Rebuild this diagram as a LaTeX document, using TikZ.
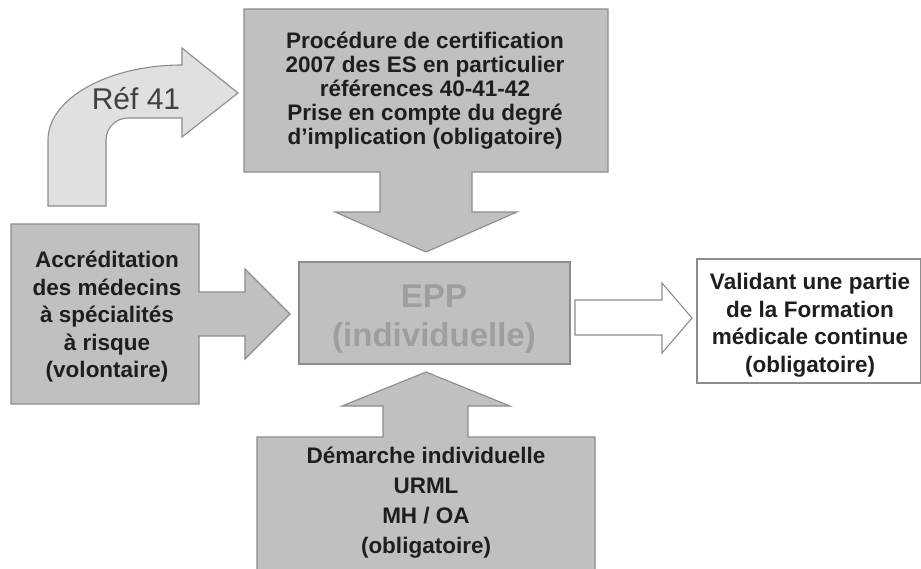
\documentclass[tikz,border=0pt]{standalone}
\usepackage{fontspec}
\setmainfont{Liberation Sans}
\definecolor{boxgrey}{HTML}{C0C0C0}
\definecolor{edgegrey}{HTML}{8C8C8C}
\definecolor{lightgrey}{HTML}{E0E0E0}
\definecolor{txt}{HTML}{1E1E1E}
\definecolor{epptxt}{HTML}{9E9E9E}
\begin{document}
\begin{tikzpicture}[x=1pt,y=-1pt,
  shapegrey/.style={fill=boxgrey,draw=edgegrey,line width=1.1pt,line join=miter},
  shapewhite/.style={fill=white,draw=edgegrey,line width=1.1pt,line join=miter},
  shapelight/.style={fill=lightgrey,draw=edgegrey,line width=1.1pt,line join=miter},
  boldtxt/.style={text=txt,font=\bfseries\fontsize{22.5}{24}\selectfont,align=center,inner sep=0pt},
  boldtxtwide/.style={text=txt,font=\bfseries\fontsize{22.5}{27.5}\selectfont,align=center,inner sep=0pt},
  bigtxt/.style={text=epptxt,font=\bfseries\fontsize{33}{39}\selectfont,align=center,inner sep=0pt},
  reftxt/.style={text=txt!85,font=\fontsize{30}{32}\selectfont,inner sep=0pt}]
\useasboundingbox[fill=white] (0,0) rectangle (921,568);
% curved arrow Ref 41
\path[shapelight] (48,206) -- (48,140) .. controls (48,98.6) and (108,65) .. (182,65)
  -- (182,48) -- (238,93) -- (182,137) -- (182,118) -- (128,118)
  .. controls (115.9,118) and (106,127.9) .. (106,140) -- (106,206) -- cycle;
\node[reftxt] (ref) at (136,99) {Réf 41};
% top callout
\path[shapegrey] (244,9) -- (608,9) -- (608,172) -- (472,172) -- (472,212) -- (517,212)
  -- (426,252) -- (335,212) -- (380,212) -- (380,172) -- (244,172) -- cycle;
\node[boldtxt] (top) at (425,91) {Procédure de certification\\2007 des ES en particulier\\références 40-41-42\\Prise en compte du degré\\d’implication (obligatoire)};
% left callout
\path[shapegrey] (11,224) -- (199,224) -- (199,292) -- (245,292) -- (245,269) -- (290,314)
  -- (245,359) -- (245,336) -- (199,336) -- (199,404) -- (11,404) -- cycle;
\node[boldtxtwide] (left) at (107,317) {Accréditation\\des médecins\\à spécialités\\à risque\\(volontaire)};
% bottom callout
\path[shapegrey] (257,437) -- (383,437) -- (383,406) -- (342,406) -- (426,372) -- (510,406)
  -- (468,406) -- (468,437) -- (595,437) -- (595,580) -- (257,580) -- cycle;
\node[text=txt,font=\bfseries\fontsize{22.5}{30}\selectfont,align=center,inner sep=0pt] (bottom) at (426,503) {Démarche individuelle\\URML\\MH / OA\\(obligatoire)};
% EPP box
\path[shapegrey] (299,262) rectangle (570,364);
\node[bigtxt] (epp) at (434,319) {EPP\\(individuelle)};
% output arrow
\path[shapewhite] (575,300) -- (662,300) -- (662,283) -- (692,318) -- (662,353) -- (662,335) -- (575,335) -- cycle;
% right box
\path[shapewhite] (697,259) rectangle (920.4,383);
\node[boldtxtwide] (out) at (810,325) {Validant une partie\\de la Formation\\médicale continue\\(obligatoire)};
\end{tikzpicture}
\end{document}
